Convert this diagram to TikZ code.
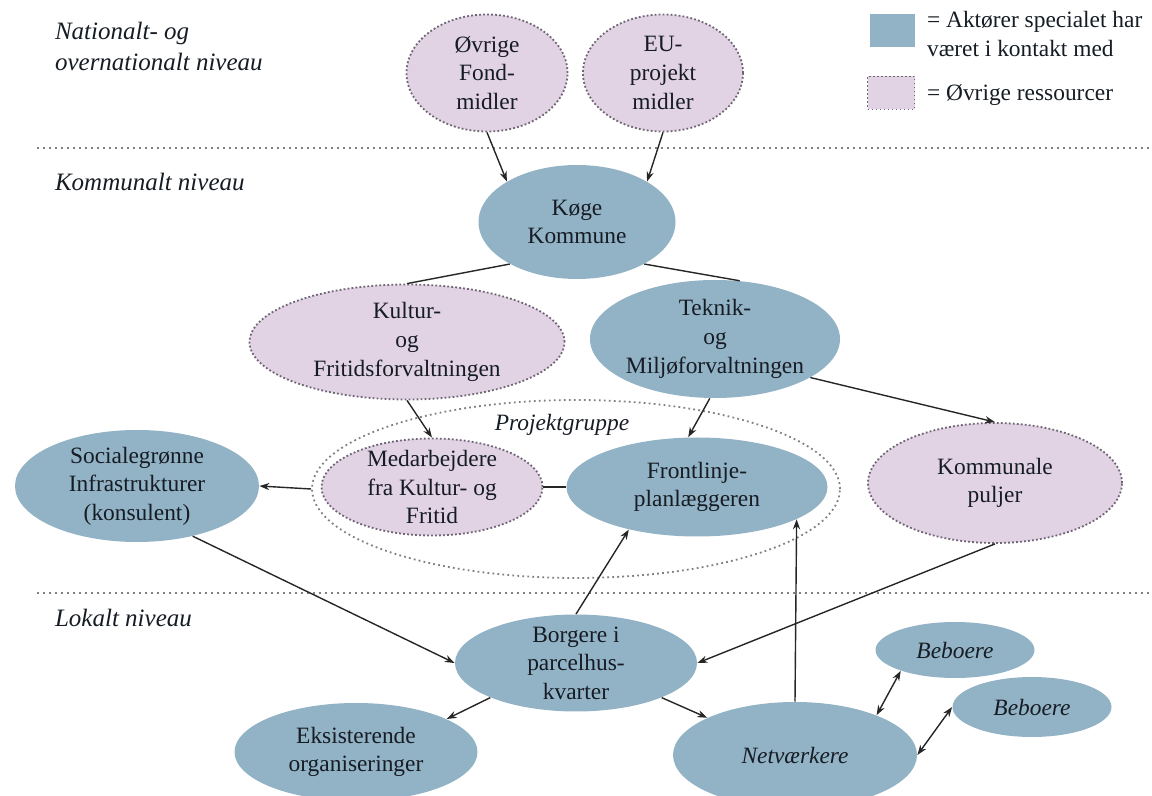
\documentclass[tikz,border=0pt]{standalone}
\usepackage{fontspec}
\setmainfont{Liberation Serif}
\usetikzlibrary{shapes.geometric,arrows.meta}

\definecolor{aktblaa}{RGB}{146,178,197}
\definecolor{ressrosa}{RGB}{225,210,228}
\definecolor{prikgraa}{RGB}{110,100,115}
\definecolor{tekstfarve}{RGB}{22,28,36}

\tikzset{
    aktoer/.style={ellipse, fill=aktblaa, inner sep=-10pt, align=center,
        text=tekstfarve, font=\fontsize{11.7}{14.3}\selectfont},
    ressource/.style={aktoer, fill=ressrosa, draw=prikgraa, line width=0.9pt,
        dash pattern=on 0.9pt off 1.1pt},
    gruppe/.style={ellipse, draw=gray, line width=0.9pt,
        dash pattern=on 0.9pt off 1.6pt},
    niveau/.style={anchor=west, align=left, text=tekstfarve,
        font=\fontsize{12.5}{15.5}\selectfont\itshape},
    niveaulinje/.style={draw=gray, line width=0.8pt, dash pattern=on 0.8pt off 2.2pt},
    pil/.style={-{Stealth[length=5pt,width=3.6pt]}, line width=0.7pt, draw=black!85},
    dobbeltpil/.style={pil, {Stealth[length=5pt,width=3.6pt]}-{Stealth[length=5pt,width=3.6pt]}},
    streg/.style={line width=0.7pt, draw=black!85}
}

\begin{document}
\begin{tikzpicture}[x=0.5pt, y=-0.5pt]
    \useasboundingbox (0,0) rectangle (1152,796);

    \draw[niveaulinje] (37,148) -- (1150,148);
    \draw[niveaulinje] (37,593) -- (1150,593);

    \node[niveau] (national) at (48,46) {Nationalt- og\\overnationalt niveau};
    \node[niveau] (kommunalt) at (48,182) {Kommunalt niveau};
    \node[niveau] (lokalt) at (48,618) {Lokalt niveau};

    \node[aktoer, rectangle, inner sep=0pt, minimum width=22.5pt, minimum height=16.5pt] (legakt) at (892,31) {};
    \node[ressource, rectangle, inner sep=0pt, minimum width=23.5pt, minimum height=16.5pt] (legres) at (891,93) {};
    \node[niveau, font=\fontsize{11.7}{14.3}\selectfont] (legakttekst) at (920,34) {= Aktører specialet har\\været i kontakt med};
    \node[niveau, font=\fontsize{11.7}{14.3}\selectfont] (legrestekst) at (920,95) {= Øvrige ressourcer};

    \node[gruppe, minimum width=264pt, minimum height=89pt] (projekt) at (576,489) {};
    \node[niveau, anchor=center, font=\fontsize{11.7}{14.3}\selectfont\itshape] (projekttekst) at (562,425) {Projektgruppe};

    \node[ressource, minimum width=80.5pt, minimum height=58.5pt] (fond) at (487,73) {Øvrige\\Fond-\\midler};
    \node[ressource, minimum width=80pt, minimum height=58.5pt] (eu) at (663,73) {EU-\\projekt\\midler};
    \node[aktoer, minimum width=98.5pt, minimum height=57pt] (koege) at (577,222) {Køge\\Kommune};
    \node[ressource, minimum width=157.5pt, minimum height=57.5pt] (kultur) at (407,342) {Kultur-\\og\\Fritidsforvaltningen};
    \node[aktoer, minimum width=125pt, minimum height=59pt] (teknik) at (715,339) {Teknik-\\og\\Miljøforvaltningen};
    \node[ressource, minimum width=110.5pt, minimum height=48.5pt] (medarb) at (432,487) {Medarbejdere\\fra Kultur- og\\Fritid};
    \node[aktoer, minimum width=130.5pt, minimum height=49.5pt] (front) at (697,487) {Frontlinje-\\planlæggeren};
    \node[aktoer, minimum width=122pt, minimum height=56pt] (social) at (137,486) {Socialegrønne\\Infrastrukturer\\(konsulent)};
    \node[ressource, minimum width=127pt, minimum height=60pt] (kommunale) at (995,483) {Kommunale\\puljer};
    \node[aktoer, minimum width=121pt, minimum height=48.5pt] (borgere) at (576,663) {Borgere i\\parcelhus-\\kvarter};
    \node[aktoer, minimum width=121.5pt, minimum height=49pt] (eksist) at (356,752) {Eksisterende\\organiseringer};
    \node[aktoer, minimum width=122pt, minimum height=53pt] (netv) at (795,755) {\textit{Netværkere}};
    \node[aktoer, minimum width=79.5pt, minimum height=28pt] (beboere1) at (955,650) {\textit{Beboere}};
    \node[aktoer, minimum width=79.5pt, minimum height=30pt] (beboere2) at (1032,707) {\textit{Beboere}};

    \draw[pil] (fond.south) -- (koege.150);
    \draw[pil] (eu.south) -- (koege.30);
    \draw[streg] (koege.212) -- (kultur.north);
    \draw[streg] (koege.328) -- (teknik.67);
    \draw[pil] (kultur.south) -- (medarb.north);
    \draw[pil] (teknik.265) -- (front.100);
    \draw[pil] (teknik.338) -- (kommunale.north);
    \draw[pil] (projekt.west) -- (social.east);
    \draw[streg] (medarb.east) -- (front.west);
    \draw[pil] (social.318) -- (borgere.west);
    \draw[pil] (kommunale.south) -- (borgere.east);
    \draw[pil] (borgere.north) -- (front.212);
    \draw[pil] (netv.north) -- (front.342);
    \draw[pil] (borgere.202) -- (eksist.20);
    \draw[pil] (borgere.338) -- (netv.157);
    \draw[dobbeltpil] (netv.26) -- (beboere1.201);
    \draw[dobbeltpil] (netv.east) -- (beboere2.west);

\end{tikzpicture}
\end{document}
